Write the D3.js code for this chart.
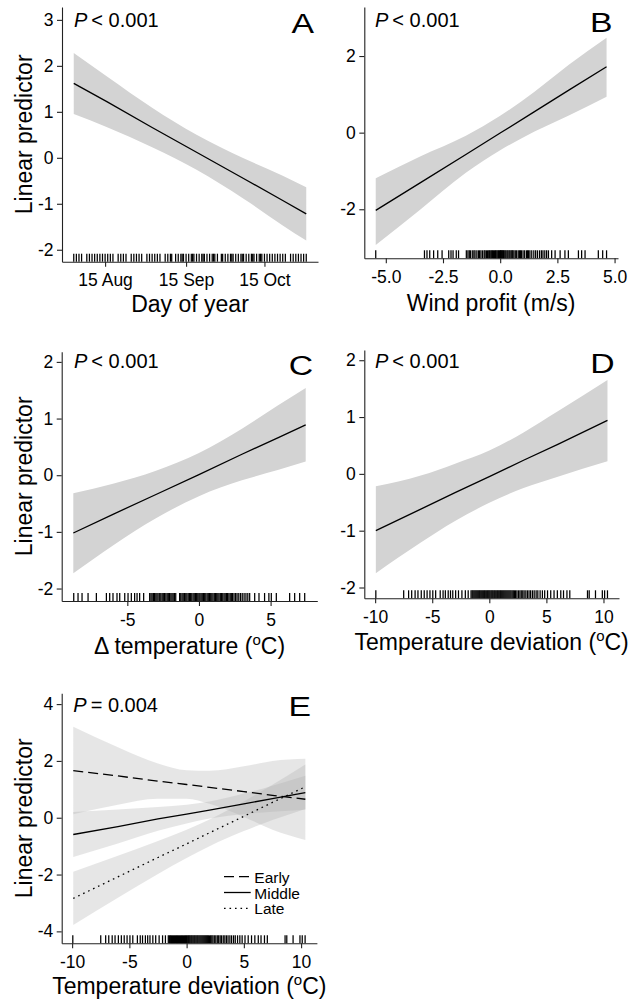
<!DOCTYPE html>
<html>
<head>
<meta charset="utf-8">
<script src="https://cdn.jsdelivr.net/npm/d3@7"></script>
<style>
  html, body { margin: 0; padding: 0; background: #fff; }
  svg { display: block; }
  text { font-family: "Liberation Sans", Arial, Helvetica, sans-serif; }
</style>
</head>
<body>
<svg id="chart" width="635" height="1004"></svg>
<script>
// ---------- Panel A: day of year ----------
const dayGrid  = [215, 228, 245, 262, 280, 295, 304];
const dayFit   = [1.62, 1.21, 0.66, 0.12, -0.45, -0.93, -1.22];
const dayLower = [0.95, 0.66, 0.23, -0.26, -0.89, -1.47, -1.80];
const dayUpper = [2.28, 1.76, 1.09, 0.50, -0.01, -0.39, -0.64];
const dayTicks = [227, 258, 288];
const dayTickLabels = ["15 Aug", "15 Sep", "15 Oct"];
const dayRug = [215, 216, 217, 218, 220, 221, 222, 223, 224, 225, 226, 227, 228, 229, 230,
  232, 233, 234, 235, 237, 238, 239, 240, 241, 243, 244, 245, 246, 247, 248, 250, 251, 252,
  252.5, 254, 255, 256, 256.5, 257, 258, 259, 260, 260.5, 261, 262, 263, 264, 264.5, 265,
  266, 267, 268, 268.5, 269, 270, 271.5, 272, 273, 274, 275, 275.5, 276, 277, 278, 279,
  279.5, 280, 281, 282, 283, 283.5, 284, 285, 286, 286.5, 287, 288, 289, 290, 291, 292,
  293, 294, 295, 296, 298, 299, 300, 301, 302, 303, 304];

// ---------- Panel B: wind profit ----------
const windGrid  = [-5.44, -3.5, -1.5, 0, 1.5, 3.0, 4.65];
const windFit   = [-2.03, -1.31, -0.57, -0.01, 0.55, 1.11, 1.72];
const windLower = [-2.93, -2.01, -1.05, -0.46, 0.03, 0.45, 0.94];
const windUpper = [-1.19, -0.62, -0.08, 0.44, 1.07, 1.77, 2.48];
const windTicks = [-5, -2.5, 0, 2.5, 5];
const windRug = [-5.44, -3.31, -3.2, -3.08, -2.91, -2.73, -2.54, -2.25, -2.15, -2.06, -1.92,
  -1.82, -1.48, -1.41, -1.35, -1.3, -1.22, -1.15, -1.1, -1.02, -0.95, -0.9, -0.84, -0.77,
  -0.7, -0.66, -0.6, -0.55, -0.5, -0.46, -0.41, -0.37, -0.33, -0.29, -0.25, -0.21, -0.18,
  -0.14, -0.1, -0.07, -0.03, 0.0, 0.02, 0.05, 0.08, 0.11, 0.14, 0.17, 0.21, 0.25, 0.3, 0.34,
  0.39, 0.43, 0.48, 0.52, 0.55, 0.6, 0.66, 0.72, 0.79, 0.85, 0.89, 0.93, 1.0, 1.07, 1.15,
  1.2, 1.24, 1.3, 1.38, 1.47, 1.55, 1.63, 1.72, 1.8, 1.87, 1.95, 2.03, 2.11, 2.25, 2.4,
  2.62, 2.83, 2.98, 3.42, 3.56, 3.71, 4.29, 4.48, 4.65];

// ---------- Panel C: delta temperature ----------
const dTempGrid  = [-8.77, -6, -3, 0, 3, 5.5, 7.45];
const dTempFit   = [-1.02, -0.69, -0.34, 0.01, 0.37, 0.66, 0.89];
const dTempLower = [-1.73, -1.24, -0.76, -0.37, -0.09, 0.09, 0.24];
const dTempUpper = [-0.32, -0.15, 0.08, 0.39, 0.82, 1.23, 1.54];
const dTempTicks = [-5, 0, 5];
const dTempRug = [-8.74, -8.44, -8.16, -7.74, -7.16, -6.46, -6.23, -6.0, -5.72, -5.53, -5.18,
  -4.95, -4.72, -4.49, -4.32, -4.14, -3.86, -3.44, -3.35, -3.27, -3.18, -3.1, -3.01, -2.93,
  -2.85, -2.74, -2.66, -2.57, -2.49, -2.4, -2.31, -2.22, -2.14, -2.05, -1.96, -1.88, -1.8,
  -1.71, -1.62, -1.35, -1.27, -1.18, -1.1, -1.01, -0.92, -0.84, -0.75, -0.66, -0.58, -0.5,
  -0.41, -0.33, -0.24, -0.16, -0.08, 0.0, 0.07, 0.15, 0.23, 0.32, 0.4, 0.48, 0.57, 0.65,
  0.73, 0.82, 0.9, 0.98, 1.07, 1.15, 1.24, 1.32, 1.4, 1.49, 1.57, 1.66, 1.75, 1.83, 1.92,
  2.0, 2.09, 2.18, 2.26, 2.35, 2.45, 2.56, 2.66, 2.78, 2.9, 3.02, 3.15, 3.28, 3.41, 3.54,
  3.89, 4.19, 4.58, 4.88, 5.05, 5.4, 6.33, 6.68, 7.03, 7.38];

// ---------- Panel D: temperature deviation ----------
const devGridD  = [-9.94, -6, -3, 0, 3, 6, 10.35];
const devFitD   = [-1.00, -0.62, -0.33, -0.05, 0.24, 0.52, 0.94];
const devLowerD = [-1.75, -1.21, -0.83, -0.51, -0.25, -0.05, 0.22];
const devUpperD = [-0.22, -0.03, 0.18, 0.41, 0.73, 1.10, 1.65];
const devTicks = [-10, -5, 0, 5, 10];
const devRug = [-9.94, -7.5, -7.07, -6.8, -6.5, -6.25, -5.96, -5.7, -5.45, -5.2, -4.95, -4.7,
  -4.3, -4.05, -3.85, -3.6, -3.4, -3.2, -2.95, -2.7, -2.4, -2.1, -1.85, -1.6, -1.5, -1.42,
  -1.33, -1.24, -1.15, -1.06, -0.97, -0.88, -0.8, -0.71, -0.62, -0.53, -0.44, -0.36, -0.27,
  -0.18, -0.1, -0.02, 0.06, 0.15, 0.23, 0.31, 0.4, 0.48, 0.57, 0.66, 0.74, 0.83, 0.92, 1.0,
  1.09, 1.18, 1.27, 1.36, 1.45, 1.54, 1.63, 1.72, 1.81, 1.9, 2.0, 2.1, 2.2, 2.3, 2.42, 2.55,
  2.68, 2.8, 2.93, 3.05, 3.2, 3.34, 3.48, 3.62, 3.78, 3.93, 4.1, 4.25, 4.45, 4.65, 4.85,
  5.1, 5.38, 5.67, 5.96, 6.26, 6.5, 6.8, 7.05, 8.6, 8.75, 9.3, 9.9, 10.1, 10.35];

// ---------- Panel E: temperature deviation by season ----------
const seasonNames = ["Early", "Middle", "Late"];
const devGridE    = [-9.9, -6, -2.5, 0, 2, 5, 7.5, 10.37];
const earlyFit    = [1.66, 1.47, 1.29, 1.17, 1.07, 0.92, 0.79, 0.65];
const earlyLower  = [0.12, 0.46, 0.67, 0.67, 0.49, 0.03, -0.42, -0.78];
const earlyUpper  = [3.20, 2.48, 1.91, 1.67, 1.65, 1.81, 2.00, 2.08];
const middleFit   = [-0.59, -0.31, -0.04, 0.13, 0.27, 0.49, 0.67, 0.88];
const middleLower = [-1.38, -0.91, -0.46, -0.20, -0.03, 0.13, 0.21, 0.28];
const middleUpper = [0.20, 0.29, 0.38, 0.46, 0.57, 0.85, 1.13, 1.48];
const lateFit     = [-2.84, -2.08, -1.40, -0.92, -0.53, 0.05, 0.54, 1.09];
const lateLower   = [-3.78, -2.82, -1.98, -1.42, -1.00, -0.47, -0.08, 0.31];
const lateUpper   = [-1.90, -1.34, -0.82, -0.42, -0.06, 0.57, 1.16, 1.87];

// ---------- drawing ----------
const svg = d3.select("#chart");
const BAND = "#d3d3d3";
const fmtInt = d => String(d);
const fmtOne = d => d.toFixed(1);

const panels = [
  { letter: "A", p: "< 0.001",
    frame: { left: 62, right: 318, top: 7, bottom: 261.7 },
    xDomain: [210.5, 308.5], yDomain: [-2.26, 3.28],
    xTicks: dayTicks, xFormat: (d, i) => dayTickLabels[i], yTicks: [-2, -1, 0, 1, 2, 3],
    series: [{ x: dayGrid, fit: dayFit, lo: dayLower, hi: dayUpper }],
    rug: dayRug, xTitle: [{ t: "Day of year" }], yTitle: true,
    pos: { pX: 74, pY: 26.7, lX: 314, lY: 33.3, xtY: 311.5, tickPad: 6.5 } },
  { letter: "B", p: "< 0.001",
    frame: { left: 364.3, right: 618, top: 7, bottom: 258.3 },
    xDomain: [-5.94, 5.15], yDomain: [-3.28, 3.28],
    xTicks: windTicks, xFormat: fmtOne, yTicks: [-2, 0, 2],
    series: [{ x: windGrid, fit: windFit, lo: windLower, hi: windUpper }],
    rug: windRug, xTitle: [{ t: "Wind profit (m/s)" }], yTitle: false,
    pos: { pX: 375, pY: 26.7, lX: 612.5, lY: 31.7, xtY: 310.5, tickPad: 7.5 } },
  { letter: "C", p: "< 0.001",
    frame: { left: 61.7, right: 317.3, top: 351.7, bottom: 601 },
    xDomain: [-9.58, 8.26], yDomain: [-2.22, 2.18],
    xTicks: dTempTicks, xFormat: fmtInt, yTicks: [-2, -1, 0, 1, 2],
    series: [{ x: dTempGrid, fit: dTempFit, lo: dTempLower, hi: dTempUpper }],
    rug: dTempRug,
    xTitle: [{ t: "\u0394 temperature (" }, { t: "o", sup: true }, { t: "C)", back: true }],
    yTitle: true,
    pos: { pX: 74, pY: 368.3, lX: 313, lY: 374.5, xtY: 654, tickPad: 7.5 } },
  { letter: "D", p: "< 0.001",
    frame: { left: 364.3, right: 619, top: 350, bottom: 598.3 },
    xDomain: [-10.95, 11.36], yDomain: [-2.19, 2.18],
    xTicks: devTicks, xFormat: fmtInt, yTicks: [-2, -1, 0, 1, 2],
    series: [{ x: devGridD, fit: devFitD, lo: devLowerD, hi: devUpperD }],
    rug: devRug,
    xTitle: [{ t: "Temperature deviation (" }, { t: "o", sup: true }, { t: "C)", back: true }],
    yTitle: false,
    pos: { pX: 375, pY: 368.3, lX: 614.5, lY: 373.3, xtY: 650, tickPad: 7.5 } },
  { letter: "E", p: "= 0.004",
    frame: { left: 61.7, right: 316.9, top: 693.3, bottom: 943.3 },
    xDomain: [-10.91, 11.38], yDomain: [-4.42, 4.38],
    xTicks: devTicks, xFormat: fmtInt, yTicks: [-4, -2, 0, 2, 4],
    series: [
      { name: seasonNames[0], x: devGridE, fit: earlyFit, lo: earlyLower, hi: earlyUpper, dash: "10,5" },
      { name: seasonNames[1], x: devGridE, fit: middleFit, lo: middleLower, hi: middleUpper, dash: null },
      { name: seasonNames[2], x: devGridE, fit: lateFit, lo: lateLower, hi: lateUpper, dash: "1.6,3.9" }
    ],
    translucent: true,
    rug: devRug,
    xTitle: [{ t: "Temperature deviation (" }, { t: "o", sup: true }, { t: "C)", back: true }],
    yTitle: true, legend: true,
    pos: { pX: 73.3, pY: 711.7, lX: 311, lY: 716.3, xtY: 994, tickPad: 7.5 } }
];

function drawPanel(p) {
  const f = p.frame;
  const x = d3.scaleLinear().domain(p.xDomain).range([f.left, f.right]);
  const y = d3.scaleLinear().domain(p.yDomain).range([f.bottom, f.top]);
  const g = svg.append("g").attr("class", "panel-" + p.letter);

  // confidence bands
  p.series.forEach(s => {
    const pts = s.x.map((v, i) => ({ x: v, lo: s.lo[i], hi: s.hi[i] }));
    g.append("path")
      .datum(pts)
      .attr("d", d3.area().x(d => x(d.x)).y0(d => y(d.lo)).y1(d => y(d.hi)).curve(d3.curveMonotoneX))
      .attr("fill", p.translucent ? "#ababab" : BAND)
      .attr("fill-opacity", p.translucent ? 0.3 : 1);
  });

  // fitted lines
  p.series.forEach(s => {
    const pts = s.x.map((v, i) => ({ x: v, y: s.fit[i] }));
    g.append("path")
      .datum(pts)
      .attr("d", d3.line().x(d => x(d.x)).y(d => y(d.y)))
      .attr("fill", "none")
      .attr("stroke", "#000")
      .attr("stroke-width", 1.3)
      .attr("stroke-dasharray", s.dash || null);
  });

  // rug along the x axis
  g.append("g").selectAll("line")
    .data(p.rug)
    .join("line")
    .attr("x1", d => x(d)).attr("x2", d => x(d))
    .attr("y1", f.bottom).attr("y2", f.bottom - 8)
    .attr("stroke", "#000").attr("stroke-width", 1.25);

  // axes
  const ax = g.append("g")
    .attr("transform", `translate(0,${f.bottom})`)
    .call(d3.axisBottom(x).tickValues(p.xTicks).tickFormat(p.xFormat)
      .tickSize(5).tickSizeOuter(0).tickPadding(p.pos.tickPad));
  const ay = g.append("g")
    .attr("transform", `translate(${f.left},0)`)
    .call(d3.axisLeft(y).tickValues(p.yTicks).tickFormat(fmtInt)
      .tickSize(5).tickSizeOuter(0).tickPadding(3.5));
  [ax, ay].forEach(a => {
    a.attr("font-family", null).attr("font-size", null);
    a.select(".domain").attr("stroke", "#222").attr("stroke-width", 1.1);
    a.selectAll(".tick line").attr("stroke", "#222").attr("stroke-width", 1.1);
    a.selectAll(".tick text").attr("fill", "#000").style("font-size", "17.5px");
  });

  // x-axis title
  const xt = g.append("text")
    .attr("x", (f.left + f.right) / 2)
    .attr("y", p.pos.xtY)
    .attr("text-anchor", "middle")
    .style("font-size", "23px")
    .attr("fill", "#000");
  p.xTitle.forEach(part => {
    const ts = xt.append("tspan").text(part.t);
    if (part.sup) ts.attr("dy", -9).style("font-size", "15px");
    if (part.back) ts.attr("dy", 9);
  });

  // y-axis title
  if (p.yTitle) {
    g.append("text")
      .attr("transform", `translate(31.7,${(f.top + f.bottom) / 2}) rotate(-90)`)
      .attr("text-anchor", "middle")
      .style("font-size", "23px")
      .attr("fill", "#000")
      .text("Linear predictor");
  }

  // P value
  const pt = g.append("text")
    .attr("x", p.pos.pX).attr("y", p.pos.pY)
    .style("font-size", "20px").attr("fill", "#000");
  pt.append("tspan").style("font-style", "italic").text("P");
  pt.append("tspan").attr("dx", 4).text(p.p);

  // panel letter (wide capital)
  g.append("text")
    .attr("transform", `translate(${p.pos.lX},${p.pos.lY}) scale(1.25,1)`)
    .attr("text-anchor", "end")
    .style("font-size", "27px").attr("fill", "#000")
    .text(p.letter);

  // legend for the season lines
  if (p.legend) {
    const lg = g.append("g");
    p.series.forEach((s, i) => {
      const base = 882.7 + i * 15.8;
      lg.append("line")
        .attr("x1", 224).attr("x2", 250.7)
        .attr("y1", base - 6).attr("y2", base - 6)
        .attr("stroke", "#000").attr("stroke-width", 1.3)
        .attr("stroke-dasharray", s.dash || null);
      lg.append("text")
        .attr("x", 254.3).attr("y", base)
        .style("font-size", "15.5px").attr("fill", "#000")
        .text(s.name);
    });
  }
}

panels.forEach(drawPanel);
</script>
</body>
</html>
